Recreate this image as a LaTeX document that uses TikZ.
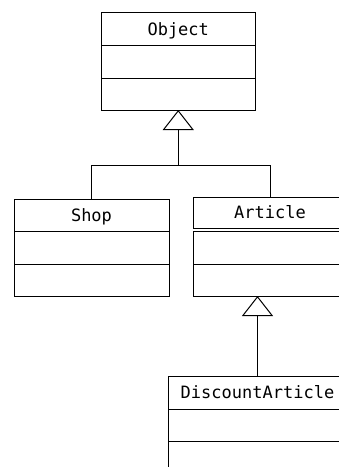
\documentclass[tikz,border=0pt]{standalone}
\usepackage{fontspec}
\setmonofont{DejaVu Sans Mono}
\usetikzlibrary{arrows.meta}
\begin{document}
\begin{tikzpicture}[x=1pt,y=-1pt,
  comp/.style={draw=black,line width=1pt,inner sep=0pt,outer sep=0pt,anchor=north west,
    font=\ttfamily\fontsize{17}{19}\selectfont,text height=12.4pt,text depth=0pt},
  conn/.style={draw=black,line width=1pt},
  gen/.style={conn,-{Triangle[open,length=20pt,width=31pt,line width=1pt]}}]
\useasboundingbox (0,0) rectangle (339,467);
% Object
\node[comp,minimum width=154.5pt,minimum height=32.3pt] (objn) at (101,12.7) {Object};
\node[comp,minimum width=154.5pt,minimum height=33pt] (obja) at (101,45) {};
\node[comp,minimum width=154.5pt,minimum height=32pt] (objo) at (101,78) {};
% Shop
\node[comp,minimum width=155pt,minimum height=32pt] (shopn) at (14,199) {Shop};
\node[comp,minimum width=155pt,minimum height=33pt] (shopa) at (14,231) {};
\node[comp,minimum width=155pt,minimum height=32pt] (shopo) at (14,264) {};
% Article
\node[comp,minimum width=154pt,minimum height=31.5pt] (artn) at (193,197) {Article};
\node[comp,minimum width=154pt,minimum height=33pt] (arta) at (193,231) {};
\node[comp,minimum width=154pt,minimum height=32pt] (arto) at (193,264) {};
% DiscountArticle
\node[comp,minimum width=179pt,minimum height=33pt] (discn) at (168,376) {DiscountArticle};
\node[comp,minimum width=179pt,minimum height=32pt] (disca) at (168,409) {};
\node[comp,minimum width=179pt,minimum height=33pt] (disco) at (168,441) {};
% connectors
\coordinate (j) at (objo.south |- 0,165.7);
\draw[conn] (shopn.north) |- (j) -| (artn.north);
\draw[gen] (j) -- (objo.south);
\draw[gen] (discn.north) -- (discn.north |- arto.south);
\end{tikzpicture}
\end{document}
